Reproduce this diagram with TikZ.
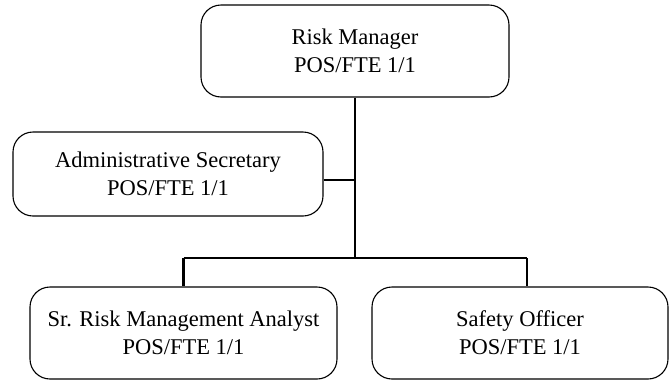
\documentclass[tikz,border=0pt]{standalone}
\usepackage{fontspec}
\setmainfont{Liberation Serif}
\begin{document}
\begin{tikzpicture}[x=1pt,y=-1pt,
  posbox/.style={draw=black,line width=1.1pt,rounded corners=20pt,align=center,
    inner sep=0pt,font=\fontsize{22.5}{28}\selectfont},
  conn/.style={draw=black,line width=2.6pt}]
\useasboundingbox[fill=white] (0,0) rectangle (670,381);
\node[posbox,minimum width=308pt,minimum height=92pt] (rm) at (355,51) {Risk Manager\\POS/FTE 1/1};
\node[posbox,minimum width=310pt,minimum height=84pt] (adm) at (168,174) {Administrative Secretary\\POS/FTE 1/1};
\node[posbox,minimum width=307pt,minimum height=92pt] (sr) at (183.5,333) {Sr. Risk Management Analyst\\POS/FTE 1/1};
\node[posbox,minimum width=296pt,minimum height=92pt] (so) at (520,333) {Safety Officer\\POS/FTE 1/1};
\coordinate (j) at (355,258);
\coordinate (jl) at (183.5,258);
\coordinate (jr) at (527,258);
\coordinate (ae) at ([yshift=-6pt]adm.east);
\draw[conn] (rm.south) -- (j);
\draw[conn] (ae) -- (ae -| rm.south);
\draw[conn] (jl) -- (jr);
\draw[conn] (jl) -- (sr.north);
\draw[conn] (jr) -- (jr |- so.north);
\end{tikzpicture}
\end{document}
